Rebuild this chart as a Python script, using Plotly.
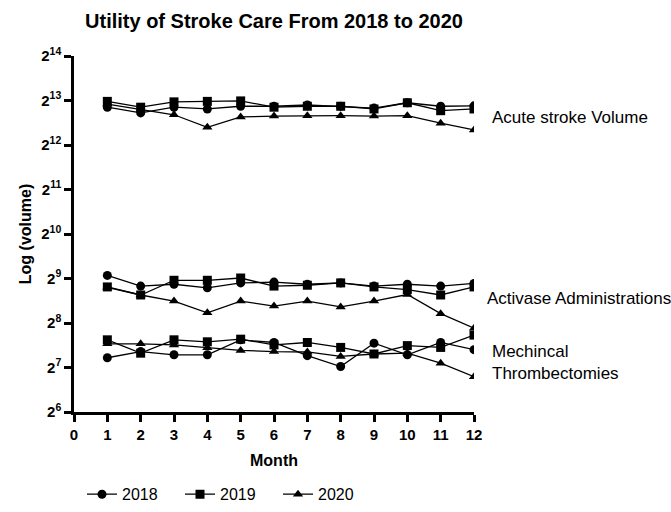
import math
import plotly.graph_objects as go

months = list(range(1, 13))
years = ["2018", "2019", "2020"]
symbols = {"2018": "circle", "2019": "square", "2020": "triangle-up"}

# Monthly volumes per measure and year
acute = {
    "2018": [7380, 6750, 7380, 7180, 7490, 7490, 7640, 7490, 7280, 7910, 7490, 7540],
    "2019": [8080, 7380, 8020, 8080, 8140, 7380, 7490, 7490, 7180, 7910, 6990, 7180],
    "2020": [7750, 7130, 6560, 5400, 6340, 6430, 6470, 6470, 6430, 6470, 5750, 5180],
}
activase = {
    "2018": [537, 455, 468, 443, 478, 484, 468, 478, 455, 468, 455, 474],
    "2019": [449, 396, 498, 498, 516, 455, 461, 478, 449, 431, 396, 449],
    "2020": [446, 396, 360, 300, 360, 333, 360, 329, 360, 399, 296, 236],
}
thrombectomies = {
    "2018": [149, 164, 156, 156, 197, 189, 154, 130, 187, 156, 189, 169],
    "2019": [197, 160, 197, 191, 199, 182, 189, 175, 158, 180, 175, 212],
    "2020": [185, 185, 182, 174, 167, 164, 163, 152, 158, 160, 137, 111],
}

exponents = list(range(6, 15))
x_ticks = list(range(0, 13))

FONT = "Arial, Liberation Sans, sans-serif"

fig = go.Figure()
for measure in (acute, activase, thrombectomies):
    for yr in years:
        fig.add_trace(go.Scatter(
            x=months, y=measure[yr], mode="lines+markers",
            line=dict(color="black", width=1.3),
            marker=dict(symbol=symbols[yr], size=9, color="black"),
            name=yr, legendgroup=yr,
            showlegend=(measure is acute),
        ))

label_font = dict(size=17, color="black", family=FONT)
fig.add_annotation(text="Acute stroke Volume", x=1.04, y=0.826, xref="paper", yref="paper",
                   xanchor="left", yanchor="middle", showarrow=False, font=label_font)
fig.add_annotation(text="Activase Administrations", x=1.0275, y=0.32, xref="paper", yref="paper",
                   xanchor="left", yanchor="middle", showarrow=False, font=label_font)
fig.add_annotation(text="Mechincal<br>Thrombectomies", x=1.04, y=0.14, xref="paper", yref="paper",
                   xanchor="left", yanchor="middle", showarrow=False, align="left",
                   font=label_font)

fig.update_layout(
    width=671, height=512,
    margin=dict(l=74, r=197, t=56, b=100, autoexpand=False),
    paper_bgcolor="white", plot_bgcolor="white",
    font=dict(family=FONT, color="black"),
    title=dict(text="<b>Utility of Stroke Care From 2018 to 2020</b>",
               x=0.5, xref="paper", y=0.959, yref="container",
               xanchor="center", yanchor="middle",
               font=dict(size=20, color="black", family=FONT)),
    legend=dict(orientation="h", x=0.02, xref="paper", y=-0.279, yanchor="bottom",
                font=dict(size=16, color="black", family=FONT),
                itemwidth=30, entrywidth=53, entrywidthmode="pixels"),
    showlegend=True,
)

fig.update_xaxes(
    range=[0, 12], tickvals=x_ticks, ticktext=[f"<b>{t}</b>" for t in x_ticks],
    showline=True, linecolor="black", linewidth=2.5,
    ticks="outside", ticklen=7, tickwidth=2.5, tickcolor="black",
    ticklabelstandoff=0,
    showgrid=False, zeroline=False,
    tickfont=dict(size=15, color="black", family=FONT),
    title=dict(text="<b>Month</b>", font=dict(size=16, color="black", family=FONT), standoff=14),
)
fig.update_yaxes(
    type="log", range=[math.log10(2 ** 6), math.log10(2 ** 14)],
    tickvals=[2 ** e for e in exponents],
    ticktext=[f"<b>2<sup>{e}</sup></b>" for e in exponents],
    showline=True, linecolor="black", linewidth=2.5,
    ticks="outside", ticklen=7, tickwidth=2.5, tickcolor="black",
    showgrid=False, zeroline=False,
    tickfont=dict(size=15, color="black", family=FONT),
    title=dict(text="<b>Log (volume)</b>", font=dict(size=16, color="black", family=FONT), standoff=6),
)

fig.write_html("out.html")
